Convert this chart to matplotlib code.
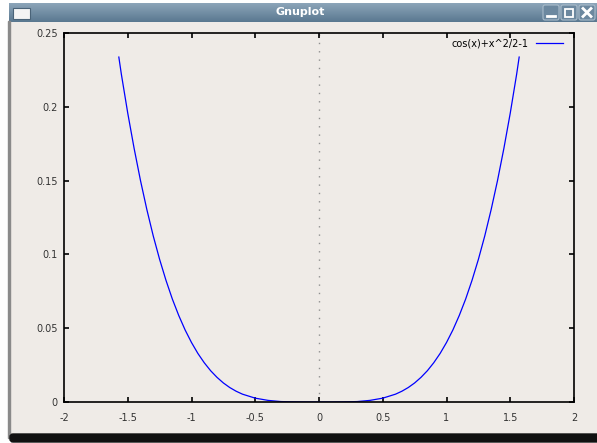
import numpy as np
import matplotlib.pyplot as plt
from matplotlib.patches import Rectangle, FancyBboxPatch

# values
xs = [-1.57, -1.55, -1.5, -1.45, -1.4, -1.35, -1.3, -1.25, -1.2, -1.15, -1.1, -1.05, -1.0, -0.95, -0.9, -0.85,
      -0.8, -0.75, -0.7, -0.65, -0.6, -0.5, -0.4, -0.3, -0.2, -0.1,
      0.0, 0.1, 0.2, 0.3, 0.4, 0.5, 0.6, 0.65, 0.7, 0.75, 0.8,
      0.85, 0.9, 0.95, 1.0, 1.05, 1.1, 1.15, 1.2, 1.25, 1.3, 1.35, 1.4, 1.45, 1.5, 1.55, 1.57]
ys = [0.2337, 0.2220, 0.1957, 0.1718, 0.1500, 0.1303, 0.1125, 0.0966, 0.0824, 0.0697, 0.0586, 0.0488, 0.0403, 0.0329, 0.0266, 0.0212,
      0.0167, 0.0129, 0.0098, 0.0073, 0.0053, 0.0026, 0.0011, 0.0003, 0.0001, 0.0,
      0.0, 0.0, 0.0001, 0.0003, 0.0011, 0.0026, 0.0053, 0.0073, 0.0098, 0.0129, 0.0167,
      0.0212, 0.0266, 0.0329, 0.0403, 0.0488, 0.0586, 0.0697, 0.0824, 0.0966, 0.1125, 0.1303, 0.1500, 0.1718, 0.1957, 0.2220, 0.2337]
xticks = [-2, -1.5, -1, -0.5, 0, 0.5, 1, 1.5, 2]
yticks = [0, 0.05, 0.1, 0.15, 0.2, 0.25]
label = "cos(x)+x^2/2-1"

W, H = 597, 443
plt.rcParams['font.family'] = ['DejaVu Sans']
fig = plt.figure(figsize=(W / 100, H / 100), dpi=100, facecolor='white')

def px(x, y, w, h):
    # pixel box (top-left origin) -> figure fraction
    return [x / W, 1 - (y + h) / H, w / W, h / H]

def pixel_axes(z):
    a = fig.add_axes([0, 0, 1, 1], zorder=z)
    a.set_xlim(0, W)
    a.set_ylim(H, 0)
    a.axis('off')
    a.patch.set_alpha(0)
    return a

# window client area
bg = pixel_axes(-5)
bg.add_patch(Rectangle((9, 20), W - 9, 418, color='#EFEBE7'))

# title bar gradient
tb = fig.add_axes(px(9, 3, W - 9, 19), zorder=1)
grad = np.linspace(0, 1, 50).reshape(-1, 1)
c1 = np.array([0x8C, 0xA5, 0xB9]) / 255
c2 = np.array([0x5A, 0x78, 0x90]) / 255
img = c1 + (c2 - c1) * grad[:, :, None]
tb.imshow(np.repeat(img, 2, axis=1), aspect='auto', extent=[0, 1, 1, 0])
tb.axis('off')

# frame, icon and buttons on top
deco = pixel_axes(10)
deco.add_patch(Rectangle((8, 21), 1.5, 417, color='#8A8A8A'))
deco.add_patch(FancyBboxPatch((10, 434), W, 8, boxstyle='round,pad=0,rounding_size=3', color='#111111'))
deco.text(300, 12, "Gnuplot", color='white', fontsize=8, fontweight='bold', ha='center', va='center')
deco.add_patch(Rectangle((12.5, 7.5), 17, 11, facecolor='#F4F4F4', edgecolor='#4A6378', lw=0.8))
for bx in [543, 561, 579]:
    deco.add_patch(FancyBboxPatch((bx, 5), 16, 15, boxstyle='round,pad=0,rounding_size=2',
                                  facecolor='#6C889F', edgecolor='#A9BCCB', lw=0.8))
deco.plot([547, 555], [16, 16], color='white', lw=2)
deco.add_patch(Rectangle((565, 8.5), 8, 8, fill=False, edgecolor='white', lw=1.3))
deco.plot([583, 591], [8.5, 16.5], color='white', lw=2)
deco.plot([583, 591], [16.5, 8.5], color='white', lw=2)

# plot area
ax = fig.add_axes(px(64, 33, 510, 369), zorder=2)
ax.set_facecolor('#EFEBE7')
ax.plot(xs, ys, color='#0000FF', lw=0.9, label=label)
ax.axvline(0, color='#909090', lw=1, ls=(0, (1, 5)), zorder=0)
ax.set_xlim(-2, 2)
ax.set_ylim(0, 0.25)
ax.set_xticks(xticks)
ax.set_yticks(yticks)
ax.set_xticklabels([f"{t:g}" for t in xticks])
ax.set_yticklabels([f"{t:g}" for t in yticks])
for s in ax.spines.values():
    s.set_linewidth(1.2)
ax.tick_params(direction='in', length=3.5, width=1.2, top=True, right=True,
               labelsize=7, colors='black', labelcolor='#333333')
ax.tick_params(axis='x', pad=8)
ax.tick_params(axis='y', pad=4.5)
ax.legend(loc='upper right', bbox_to_anchor=(0.978, 0.985), frameon=False, fontsize=7,
          markerfirst=False, handlelength=2.8, handletextpad=0.7, borderpad=0, borderaxespad=0)

fig.savefig('out.png', dpi=100, facecolor='white')
